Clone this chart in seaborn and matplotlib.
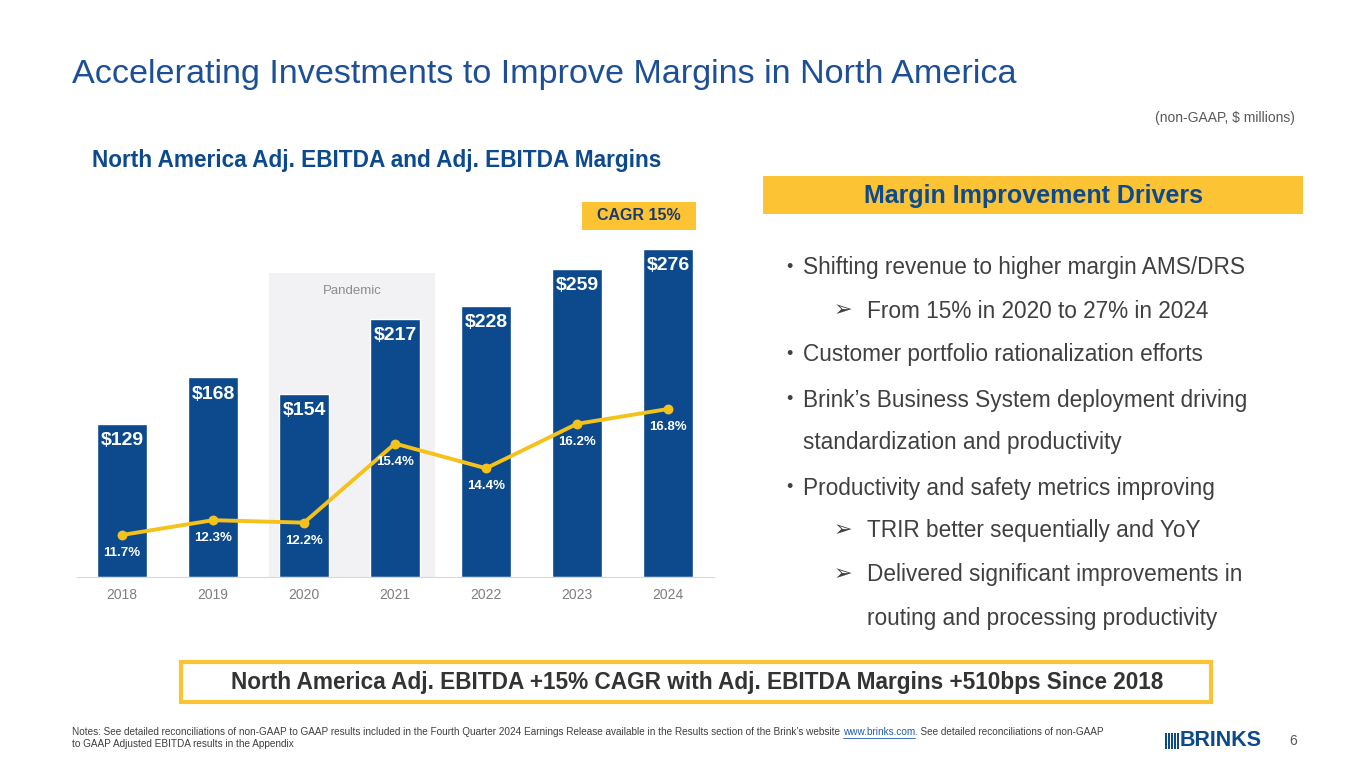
import seaborn as sns
import numpy as np
import pandas as pd
import matplotlib.pyplot as plt
from matplotlib.patches import Rectangle

sns.set_style("white")
plt.rcParams["font.family"] = ["Liberation Sans", "DejaVu Sans"]

# %% data
years = ["2018", "2019", "2020", "2021", "2022", "2023", "2024"]
ebitda = [129, 168, 154, 217, 228, 259, 276]
margin = [11.7, 12.3, 12.2, 15.4, 14.4, 16.2, 16.8]

df = pd.DataFrame({"year": years, "ebitda": ebitda, "margin": margin})

bullets = [
    ("•", "Shifting revenue to higher margin AMS/DRS", 0),
    ("➢", "From 15% in 2020 to 27% in 2024", 1),
    ("•", "Customer portfolio rationalization efforts", 0),
    ("•", "Brink’s Business System deployment driving", 0),
    ("", "standardization and productivity", 0),
    ("•", "Productivity and safety metrics improving", 0),
    ("➢", "TRIR better sequentially and YoY", 1),
    ("➢", "Delivered significant improvements in", 1),
    ("", "routing and processing productivity", 1),
]

BLUE = "#0C4A8D"
TITLE_BLUE = "#1D4F97"
YELLOW = "#F4C21B"
BOX_YELLOW = "#FCC334"
GRAY = "#404040"

W, H = 1365, 768
fx = lambda px: px / W
fy = lambda py: 1 - py / H

fig = plt.figure(figsize=(13.65, 7.68), dpi=100)
fig.patch.set_facecolor("white")

# %% chart
ax = fig.add_axes([fx(76.5), fy(577), 637 / W, 377 / H])
ax2 = ax.twinx()

ax.add_patch(Rectangle((1.62, 0), 1.82, 256, facecolor="#F2F2F4", edgecolor="none", zorder=0))
ax.text(2.53, 241, "Pandemic", ha="center", va="center", color="#8C8C8C", fontsize=9.5)

sns.barplot(data=df, x="year", y="ebitda", color=BLUE, saturation=1, width=0.56, ax=ax, zorder=2)
ax.set_ylim(0, 317.3)
for i, v in enumerate(ebitda):
    ax.annotate(f"${v}", xy=(i, v), xytext=(0, -12), textcoords="offset points",
                ha="center", va="center", color="white", fontsize=14, fontweight="bold")

sns.pointplot(data=df, x="year", y="margin", color=YELLOW, markers="o", markersize=5,
              linewidth=2.8, ax=ax2)
ax2.set_ylim(10, 25.26)
for i, m in enumerate(margin):
    ax2.annotate(f"{m}%", xy=(i, m), xytext=(0, -13), textcoords="offset points",
                 ha="center", va="center", color="white", fontsize=9.5, fontweight="bold")

for a in (ax, ax2):
    a.set_xlim(-0.5, 6.5)
    a.set_xlabel("")
    a.set_ylabel("")
    a.set_yticks([])
    for s in ["top", "right", "left"]:
        a.spines[s].set_visible(False)
    a.spines["bottom"].set_color("#D9D9D9")
ax2.spines["bottom"].set_visible(False)
ax.tick_params(axis="x", length=0, pad=8, labelsize=10, labelcolor="#7F7F7F")
ax.set_zorder(1)
ax.patch.set_visible(False)
ax2.set_zorder(2)

# CAGR box
fig.add_artist(Rectangle((fx(582), fy(230)), 114 / W, 28 / H, transform=fig.transFigure,
                         facecolor=BOX_YELLOW, edgecolor="none"))
fig.text(fx(639), fy(216), "CAGR 15%", ha="center", va="center", fontsize=11.5,
         fontweight="bold", color="#1C3A6B")

# %% titles
fig.text(fx(72), fy(75), "Accelerating Investments to Improve Margins in North America",
         ha="left", va="center", fontsize=24.6, color=TITLE_BLUE)
fig.text(fx(92), fy(160), "North America Adj. EBITDA and Adj. EBITDA Margins",
         ha="left", va="center", fontsize=16.3, fontweight="bold", color=BLUE)
fig.text(fx(1295), fy(118), "(non-GAAP, $ millions)", ha="right", va="center",
         fontsize=10, color="#595959")

# %% right panel
fig.add_artist(Rectangle((fx(763), fy(214)), 540 / W, 38 / H, transform=fig.transFigure,
                         facecolor=BOX_YELLOW, edgecolor="none"))
fig.text(fx(1033), fy(196), "Margin Improvement Drivers", ha="center", va="center",
         fontsize=18, fontweight="bold", color=BLUE)

line_y = [268, 311, 355, 400, 442, 488, 531, 575, 619]
for (mark, txt, lvl), py in zip(bullets, line_y):
    mx, tx = (786, 803) if lvl == 0 else (834, 867)
    if mark:
        fig.text(fx(mx), fy(py), mark, ha="left", va="center", fontsize=16 if lvl else 13, color=GRAY)
    fig.text(fx(tx), fy(py), txt, ha="left", va="center", fontsize=16.3, color=GRAY)

# %% bottom banner
fig.add_artist(Rectangle((fx(181), fy(702)), 1030 / W, 40 / H, transform=fig.transFigure,
                         facecolor="white", edgecolor=BOX_YELLOW, linewidth=3))
fig.text(fx(697), fy(683), "North America Adj. EBITDA +15% CAGR with Adj. EBITDA Margins +510bps Since 2018",
         ha="center", va="center", fontsize=16.3, fontweight="bold", color="#333333")

# %% notes
NS = 7.17
renderer = fig.canvas.get_renderer()
t1 = fig.text(fx(72), fy(732), "Notes: See detailed reconciliations of non-GAAP to GAAP results included in the "
              "Fourth Quarter 2024 Earnings Release available in the Results section of the Brink’s website ",
              ha="left", va="center", fontsize=NS, color="#404040")
x_end = t1.get_window_extent(renderer).x1
t2 = fig.text(x_end / W, fy(732), "www.brinks.com", ha="left", va="center", fontsize=NS,
              color="#1F5BB5")
bb = t2.get_window_extent(renderer)
fig.add_artist(plt.Line2D([bb.x0 / W, bb.x1 / W], [fy(737.5), fy(737.5)], color="#1F5BB5", linewidth=0.6))
fig.text(bb.x1 / W, fy(732), ". See detailed reconciliations of non-GAAP", ha="left", va="center",
         fontsize=NS, color="#404040")
fig.text(fx(72), fy(744), "to GAAP Adjusted EBITDA results in the Appendix", ha="left", va="center",
         fontsize=NS, color="#404040")

# logo
for k in range(5):
    fig.add_artist(Rectangle((fx(1165 + k * 3), fy(749)), 1.6 / W, 16 / H, transform=fig.transFigure,
                             facecolor=BLUE, edgecolor="none"))
fig.text(fx(1180), fy(741), "BRINKS", ha="left", va="center", fontsize=15.5, fontweight="heavy",
         color=BLUE)
fig.text(fx(1293), fy(741), "6", ha="center", va="center", fontsize=10, color="#595959")

fig.savefig("out.png", dpi=100)
